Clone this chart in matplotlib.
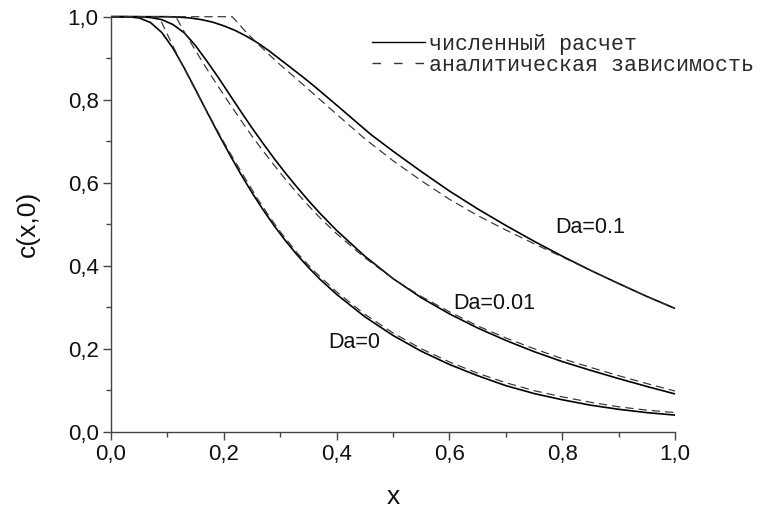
import matplotlib
matplotlib.use("Agg")
import matplotlib.pyplot as plt
from matplotlib.lines import Line2D
from matplotlib.ticker import MultipleLocator, FuncFormatter

plt.rcParams['font.family'] = ['Liberation Sans', 'DejaVu Sans']
plt.rcParams['lines.scale_dashes'] = False

# numerical solution (solid)
x_num0 = [0, 0.03, 0.05, 0.07, 0.09, 0.11, 0.13, 0.15, 0.17, 0.19, 0.21, 0.23, 0.25, 0.27, 0.29, 0.31,
          0.33, 0.35, 0.37, 0.40, 0.45, 0.50, 0.55, 0.60, 0.65, 0.70, 0.75, 0.80, 0.85, 0.90, 0.95, 1.0]
y_num0 = [1.0, 1.0, 0.997, 0.986, 0.962, 0.924, 0.876, 0.824, 0.771, 0.719, 0.669, 0.621, 0.576, 0.534,
          0.495, 0.459, 0.426, 0.396, 0.368, 0.331, 0.277, 0.232, 0.194, 0.162, 0.135, 0.111, 0.092,
          0.077, 0.064, 0.054, 0.046, 0.040]

x_num001 = [0, 0.05, 0.07, 0.09, 0.11, 0.13, 0.15, 0.17, 0.19, 0.21, 0.23, 0.25, 0.27, 0.29, 0.31, 0.33,
            0.35, 0.37, 0.40, 0.45, 0.50, 0.55, 0.60, 0.65, 0.70, 0.75, 0.80, 0.85, 0.90, 0.95, 1.0]
y_num001 = [1.0, 1.0, 0.998, 0.993, 0.981, 0.961, 0.930, 0.893, 0.854, 0.813, 0.772, 0.732, 0.694, 0.657,
            0.622, 0.589, 0.557, 0.527, 0.485, 0.423, 0.369, 0.323, 0.284, 0.250, 0.220, 0.193, 0.169,
            0.148, 0.128, 0.109, 0.091]

x_num01 = [0, 0.10, 0.12, 0.14, 0.16, 0.18, 0.20, 0.22, 0.24, 0.26, 0.28, 0.30, 0.32, 0.34, 0.36, 0.38,
           0.40, 0.43, 0.46, 0.50, 0.55, 0.60, 0.65, 0.70, 0.75, 0.80, 0.85, 0.90, 0.95, 1.0]
y_num01 = [1.0, 1.0, 0.999, 0.997, 0.993, 0.987, 0.978, 0.967, 0.953, 0.937, 0.918, 0.897, 0.876, 0.855,
           0.833, 0.810, 0.787, 0.752, 0.717, 0.676, 0.627, 0.580, 0.537, 0.497, 0.459, 0.423, 0.389,
           0.357, 0.326, 0.297]

# analytical dependence (dashed)
x_an0 = [0, 0.085, 0.10, 0.12, 0.14, 0.16, 0.18, 0.20, 0.22, 0.24, 0.26, 0.28, 0.30, 0.33, 0.36, 0.40,
         0.45, 0.50, 0.55, 0.60, 0.65, 0.70, 0.75, 0.80, 0.85, 0.90, 0.95, 1.0]
y_an0 = [1.0, 1.0, 0.957, 0.901, 0.848, 0.797, 0.747, 0.698, 0.651, 0.606, 0.561, 0.520, 0.482, 0.431,
         0.387, 0.337, 0.283, 0.238, 0.200, 0.168, 0.141, 0.118, 0.099, 0.084, 0.071, 0.060, 0.052, 0.046]

x_an001 = [0, 0.115, 0.13, 0.15, 0.17, 0.19, 0.21, 0.23, 0.25, 0.27, 0.29, 0.31, 0.33, 0.35, 0.37,
           0.40, 0.45, 0.50, 0.55, 0.60, 0.65, 0.70, 0.75, 0.80, 0.85, 0.90, 0.95, 1.0]
y_an001 = [1.0, 1.0, 0.963, 0.918, 0.874, 0.832, 0.791, 0.751, 0.712, 0.676, 0.641, 0.607, 0.575, 0.545,
           0.516, 0.477, 0.419, 0.369, 0.326, 0.289, 0.255, 0.226, 0.200, 0.176, 0.155, 0.135, 0.116, 0.098]

x_an01 = [0, 0.215, 0.24, 0.26, 0.28, 0.30, 0.33, 0.36, 0.40, 0.45, 0.50, 0.55, 0.60, 0.65, 0.70,
          0.75, 0.80, 0.85, 0.90, 0.95, 1.0]
y_an01 = [1.0, 1.0, 0.962, 0.935, 0.909, 0.884, 0.849, 0.813, 0.765, 0.706, 0.653, 0.605, 0.560, 0.521,
          0.486, 0.453, 0.421, 0.389, 0.357, 0.326, 0.297]

labels = ["Da=0", "Da=0.01", "Da=0.1"]
label_pos = [(0.385, 0.214), (0.606, 0.310), (0.787, 0.491)]
legend_labels = ["численный расчет", "аналитическая зависимость"]

fig = plt.figure(figsize=(7.65, 5.12), dpi=100)
ax = fig.add_axes([111 / 765, 1 - 431.7 / 512, 564 / 765, 415 / 512])

solid_kw = dict(color='black', lw=1.2, clip_on=False, solid_capstyle='butt', solid_joinstyle='round')
dash_kw = dict(color='#333333', lw=0.85, clip_on=False, dashes=(6, 3.6))

for xs, ys in [(x_num0, y_num0), (x_num001, y_num001), (x_num01, y_num01)]:
    ax.plot(xs, ys, **solid_kw)
for xs, ys in [(x_an0, y_an0), (x_an001, y_an001), (x_an01, y_an01)]:
    ax.plot(xs, ys, **dash_kw)

for lab, (lx, ly) in zip(labels, label_pos):
    ax.text(lx, ly, lab, fontsize=15.5, ha='left', va='center', color='#111111')

ax.set_xlim(0, 1.0)
ax.set_ylim(0, 1.0)
for s in ['top', 'right']:
    ax.spines[s].set_visible(False)
for s in ['left', 'bottom']:
    ax.spines[s].set_color('#444444')
    ax.spines[s].set_linewidth(1.0)

ax.xaxis.set_major_locator(MultipleLocator(0.2))
ax.xaxis.set_minor_locator(MultipleLocator(0.1))
ax.yaxis.set_major_locator(MultipleLocator(0.2))
ax.yaxis.set_minor_locator(MultipleLocator(0.1))
fmt = FuncFormatter(lambda v, p: f"{v:.1f}".replace('.', ','))
ax.xaxis.set_major_formatter(fmt)
ax.yaxis.set_major_formatter(fmt)
ax.tick_params(which='major', direction='out', length=6, width=1.0, color='#444444',
               labelsize=16, pad=3, labelcolor='#111111')
ax.tick_params(which='minor', direction='out', length=3.5, width=1.0, color='#444444')

ax.set_xlabel("x", fontsize=19, labelpad=14, color='#111111')
ax.set_ylabel("c(x,0)", fontsize=19, labelpad=20, color='#111111')

h_solid = Line2D([], [], color='black', lw=1.0)
h_dash = Line2D([], [], color='#333333', lw=1.0, dashes=(6.1, 9.4))
leg = ax.legend([h_solid, h_dash], legend_labels, loc='upper left',
                bbox_to_anchor=(372 / 765, 1 - 34 / 512), bbox_transform=fig.transFigure,
                frameon=False, borderpad=0, borderaxespad=0, handlelength=2.45,
                handletextpad=0.2, labelspacing=0.0,
                prop={'family': 'Liberation Mono', 'size': 15.6})
for t in leg.get_texts():
    t.set_color('#2a2a2a')

fig.savefig("out.png", dpi=100)
